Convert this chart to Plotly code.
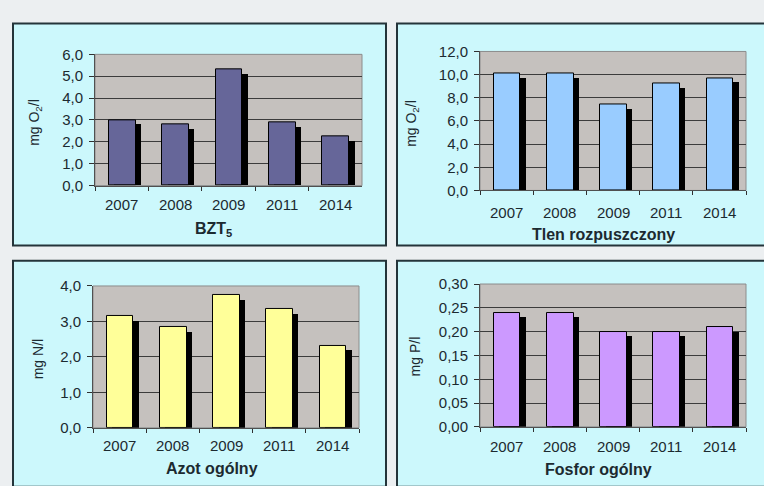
import plotly.graph_objects as go

# ---------------- data ----------------
years = ["2007", "2008", "2009", "2011", "2014"]
bzt5 = [3.0, 2.8, 5.3, 2.9, 2.25]          # mg O2/l
tlen = [10.1, 10.1, 7.4, 9.2, 9.7]          # mg O2/l
azot = [3.15, 2.85, 3.75, 3.35, 2.32]       # mg N/l
fosfor = [0.24, 0.24, 0.20, 0.20, 0.21]     # mg P/l

titles = ["<b>BZT<sub>5</sub></b>", "<b>Tlen rozpuszczony</b>",
          "<b>Azot ogólny</b>", "<b>Fosfor ogólny</b>"]
ylabels = ["mg O<sub>2</sub>/l", "mg O<sub>2</sub>/l", "mg N/l", "mg P/l"]
yranges = [(0, 6), (0, 12), (0, 4), (0, 0.30)]
ydticks = [1, 2, 1, 0.05]
yformats = [".1f", ".1f", ".1f", ".2f"]
colors = ["#666699", "#99ccff", "#ffff99", "#cc99ff"]
series = [bzt5, tlen, azot, fosfor]

# ---------------- layout geometry (pixels) ----------------
W, H = 764, 486
plots = [(95, 362, 47, 183), (480, 746, 44, 188), (93, 359, 287, 434), (480, 746, 285, 433)]
boxes = [(13, 386, 15, 245), (397, 775, 15, 245), (13, 386, 261, 495), (397, 775, 261, 495)]
ylab_pos = [(35, 118), (412, 118), (38, 363), (415, 360)]
title_pos = [(213, 229), (603, 234), (212, 476), (598, 477)]
xlab_y = [203, 211, 452, 453]

FONT = "Liberation Sans, Arial, sans-serif"
TXT = "#1c2a30"

fig = go.Figure()
shapes = []
annotations = []
layout = {}

for i in range(4):
    x0, x1, y0, y1 = plots[i]
    ymin, ymax = yranges[i]
    ph = y1 - y0
    dv = (ymax - ymin) / ph * 5.0  # shadow depth of ~5px
    xa = "x" if i == 0 else f"x{i+1}"
    ya = "y" if i == 0 else f"y{i+1}"
    vals = series[i]
    # shadow (3D side) bars
    fig.add_trace(go.Bar(
        x=years, y=[v - dv for v in vals], xaxis=xa, yaxis=ya,
        marker=dict(color="#000000", line=dict(width=0)),
        offset=-0.24 + 0.1, width=0.5, hoverinfo="skip", showlegend=False))
    # main bars
    fig.add_trace(go.Bar(
        x=years, y=vals, xaxis=xa, yaxis=ya,
        marker=dict(color=colors[i], line=dict(color="#000000", width=1)),
        offset=-0.24, width=0.5, showlegend=False))

    xkey = "xaxis" if i == 0 else f"xaxis{i+1}"
    ykey = "yaxis" if i == 0 else f"yaxis{i+1}"
    layout[xkey] = dict(
        domain=[x0 / W, x1 / W], anchor=ya, type="category",
        categoryorder="array", categoryarray=years, range=[-0.5, len(years) - 0.5],
        showgrid=False, showline=True, linecolor="#505050", linewidth=1,
        ticks="outside", tickson="boundaries", ticklen=4, tickcolor="#303030",
        showticklabels=False, fixedrange=True)
    layout[ykey] = dict(
        domain=[1 - y1 / H, 1 - y0 / H], anchor=xa, range=[ymin, ymax],
        tick0=0, dtick=ydticks[i], tickformat=yformats[i],
        showgrid=True, gridcolor="#3c3c3c", gridwidth=1,
        showline=True, linecolor="#505050", linewidth=1,
        ticks="outside", ticklen=5, tickcolor="#303030",
        tickfont=dict(family=FONT, size=15, color=TXT), ticklabelstandoff=3,
        zeroline=False, fixedrange=True)

    # panel box
    bx0, bx1, by0, by1 = boxes[i]
    shapes.append(dict(type="rect", xref="paper", yref="paper", layer="below",
                       x0=bx0 / W, x1=bx1 / W, y0=1 - by1 / H, y1=1 - by0 / H,
                       fillcolor="#ccf8fc", line=dict(color="#24343a", width=2)))
    # plot area
    shapes.append(dict(type="rect", xref=f"{xa} domain", yref=f"{ya} domain", layer="below",
                       x0=0, x1=1, y0=0, y1=1,
                       fillcolor="#c5c1be", line=dict(color="#8c8c8c", width=1)))

    # category labels (placed at category index on the category axis)
    for j, yr in enumerate(years):
        annotations.append(dict(text=yr, x=j, y=1 - xlab_y[i] / H, xref=xa, yref="paper",
                                showarrow=False, xanchor="center", yanchor="middle",
                                font=dict(family=FONT, size=15, color=TXT)))

    lx, ly = ylab_pos[i]
    annotations.append(dict(text=ylabels[i], x=lx / W, y=1 - ly / H, xref="paper", yref="paper",
                            showarrow=False, textangle=-90, xanchor="center", yanchor="middle",
                            font=dict(family=FONT, size=14, color=TXT)))
    tx, ty = title_pos[i]
    annotations.append(dict(text=titles[i], x=tx / W, y=1 - ty / H, xref="paper", yref="paper",
                            showarrow=False, xanchor="center", yanchor="middle",
                            font=dict(family=FONT, size=16, color=TXT)))

fig.update_layout(
    width=W, height=H, margin=dict(l=0, r=0, t=0, b=0),
    paper_bgcolor="#eceff1", plot_bgcolor="rgba(0,0,0,0)",
    separators=", ", barmode="overlay", bargap=0,
    shapes=shapes, annotations=annotations, showlegend=False,
    **layout)

fig.write_html("out.html", config={"displayModeBar": False},
               post_script="document.body.style.margin='0';document.body.style.overflow='hidden';")
